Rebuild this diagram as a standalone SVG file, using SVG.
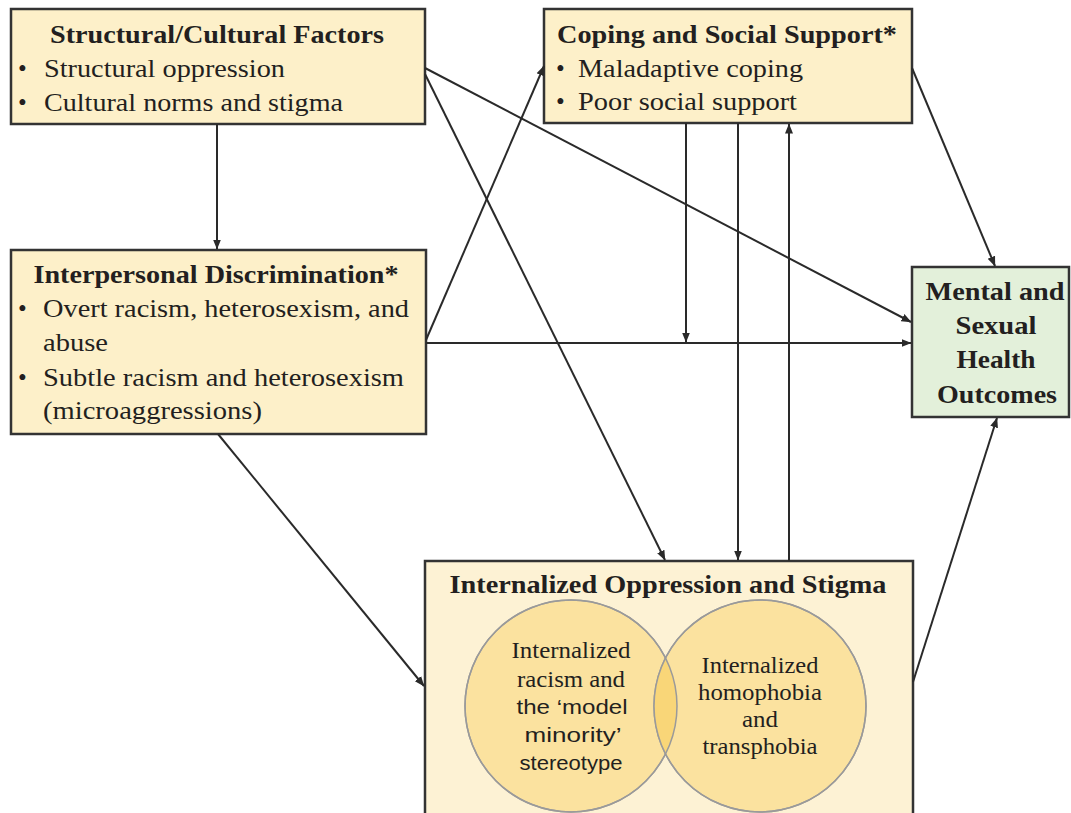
<svg xmlns="http://www.w3.org/2000/svg" width="1071" height="813" viewBox="0 0 1071 813">
<style>
.box{fill:#fdf0c9;stroke:#333;stroke-width:2.5}
.t{font-family:"Liberation Serif","Times New Roman",serif;font-size:25px;fill:#231f20}
.b{font-weight:bold}
.c{text-anchor:middle}
.s{font-family:"Liberation Sans",Arial,sans-serif;font-size:21px;fill:#231f20;text-anchor:middle}
.ct{font-family:"Liberation Serif","Times New Roman",serif;font-size:24px;fill:#231f20;text-anchor:middle}
.ln{stroke:#2a2a2a;stroke-width:2;fill:none;marker-end:url(#ah)}
</style>
<defs>
<marker id="ah" viewBox="0 0 10 10" refX="9.5" refY="5" markerWidth="10" markerHeight="10" markerUnits="userSpaceOnUse" orient="auto">
<path d="M0,1 L10,5 L0,9 Z" fill="#2a2a2a"/>
</marker>
<clipPath id="lc"><circle cx="571" cy="706" r="106"/></clipPath>
</defs>
<rect width="1071" height="813" fill="#fff"/>

<g id="structural">
<rect class="box" x="11" y="9" width="414" height="115"/>
<text class="t b c" x="217" y="43" textLength="334" lengthAdjust="spacingAndGlyphs">Structural/Cultural Factors</text>
<text class="t" x="18" y="77">•</text><text class="t" x="44" y="77" textLength="241" lengthAdjust="spacingAndGlyphs">Structural oppression</text>
<text class="t" x="18" y="111">•</text><text class="t" x="44" y="111" textLength="299" lengthAdjust="spacingAndGlyphs">Cultural norms and stigma</text>
</g>

<g id="coping">
<rect class="box" x="544" y="9" width="368" height="114"/>
<text class="t b c" x="727" y="43" textLength="340" lengthAdjust="spacingAndGlyphs">Coping and Social Support*</text>
<text class="t" x="556" y="77">•</text><text class="t" x="578" y="77" textLength="225" lengthAdjust="spacingAndGlyphs">Maladaptive coping</text>
<text class="t" x="556" y="110">•</text><text class="t" x="578" y="110" textLength="219" lengthAdjust="spacingAndGlyphs">Poor social support</text>
</g>

<g id="interpersonal">
<rect class="box" x="11" y="250" width="415" height="184"/>
<text class="t b c" x="216" y="283" textLength="365" lengthAdjust="spacingAndGlyphs">Interpersonal Discrimination*</text>
<text class="t" x="18" y="317">•</text><text class="t" x="43" y="317" textLength="366" lengthAdjust="spacingAndGlyphs">Overt racism, heterosexism, and</text>
<text class="t" x="43" y="351" textLength="65" lengthAdjust="spacingAndGlyphs">abuse</text>
<text class="t" x="18" y="386">•</text><text class="t" x="43" y="386" textLength="361" lengthAdjust="spacingAndGlyphs">Subtle racism and heterosexism</text>
<text class="t" x="43" y="419" textLength="219" lengthAdjust="spacingAndGlyphs">(microaggressions)</text>
</g>

<g id="outcomes">
<rect x="912" y="267" width="157" height="150" fill="#e3f0da" stroke="#333" stroke-width="2.5"/>
<text class="t b c" x="995" y="300" textLength="139" lengthAdjust="spacingAndGlyphs">Mental and</text>
<text class="t b c" x="996" y="334" textLength="81" lengthAdjust="spacingAndGlyphs">Sexual</text>
<text class="t b c" x="996" y="368" textLength="79" lengthAdjust="spacingAndGlyphs">Health</text>
<text class="t b c" x="997" y="403" textLength="120" lengthAdjust="spacingAndGlyphs">Outcomes</text>
</g>

<g id="internalized">
<rect x="425" y="561" width="488" height="260" fill="#fdf2d4" stroke="#333" stroke-width="2.5"/>
<text class="t b c" x="668" y="593" textLength="437" lengthAdjust="spacingAndGlyphs">Internalized Oppression and Stigma</text>
<circle cx="571" cy="706" r="106" fill="#fbe29f" stroke="#9a9a9a" stroke-width="1.5"/>
<circle cx="760" cy="706" r="106" fill="#fbe29f" stroke="#9a9a9a" stroke-width="1.5"/>
<circle cx="760" cy="706" r="106" fill="#f9d678" clip-path="url(#lc)"/>
<circle cx="571" cy="706" r="106" fill="none" stroke="#9a9a9a" stroke-width="1.5"/>
<circle cx="760" cy="706" r="106" fill="none" stroke="#9a9a9a" stroke-width="1.5"/>
<text class="ct" x="571" y="658" textLength="119" lengthAdjust="spacingAndGlyphs">Internalized</text>
<text class="ct" x="571" y="687" textLength="108" lengthAdjust="spacingAndGlyphs">racism and</text>
<text class="s" x="572" y="714" textLength="111" lengthAdjust="spacingAndGlyphs">the ‘model</text>
<text class="s" x="573" y="742" textLength="97" lengthAdjust="spacingAndGlyphs">minority’</text>
<text class="s" x="571" y="770" textLength="103" lengthAdjust="spacingAndGlyphs">stereotype</text>
<text class="ct" x="760" y="673" textLength="117" lengthAdjust="spacingAndGlyphs">Internalized</text>
<text class="ct" x="760" y="700" textLength="124" lengthAdjust="spacingAndGlyphs">homophobia</text>
<text class="ct" x="760" y="727" textLength="36" lengthAdjust="spacingAndGlyphs">and</text>
<text class="ct" x="760" y="754" textLength="115" lengthAdjust="spacingAndGlyphs">transphobia</text>
</g>

<g id="connectors">
<line class="ln" x1="217" y1="124" x2="217" y2="249"/>
<line class="ln" x1="425" y1="68" x2="911" y2="322"/>
<line class="ln" x1="425" y1="74" x2="665" y2="560"/>
<line class="ln" x1="426" y1="340" x2="544" y2="66"/>
<line class="ln" x1="426" y1="343" x2="911" y2="343"/>
<line class="ln" x1="218" y1="434" x2="424" y2="686"/>
<line class="ln" x1="686" y1="123" x2="686" y2="342"/>
<line class="ln" x1="738" y1="123" x2="738" y2="560"/>
<line class="ln" x1="789" y1="561" x2="789" y2="124"/>
<line class="ln" x1="912" y1="68" x2="995" y2="266"/>
<line class="ln" x1="913" y1="682" x2="997" y2="418"/>
</g>
</svg>
